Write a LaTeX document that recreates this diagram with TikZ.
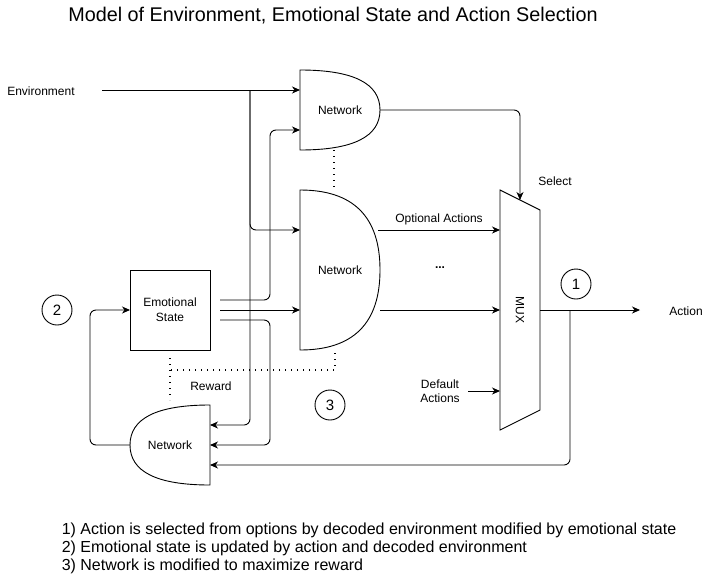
\documentclass[tikz,border=0pt]{standalone}
\usepackage{fontspec}
\setmainfont{Liberation Sans}
\usepackage{tikz}
\usetikzlibrary{arrows.meta,calc}

\begin{document}
\begin{tikzpicture}[x=1pt,y=-1pt,line width=0.9pt,font=\fontsize{12}{14}\selectfont,
   arr/.style={-{Stealth[length=8pt,width=7pt,inset=2.5pt]}},
   rc/.style={rounded corners=6pt},
   netbox/.style={minimum width=80,minimum height=80,inner sep=0,outer sep=0},
   dotline/.style={line width=1.3pt,dash pattern=on 1.3pt off 4.7pt},
   num/.style={draw,circle,minimum size=30,inner sep=0,font=\fontsize{15}{18}\selectfont}]
\useasboundingbox (0,0) rectangle (711,581);
% gate outline: flat side #2, round side #3 (two quadratic halves)
\newcommand{\gateline}[3]{\draw (#1.north #2) .. controls ($(#1.north #2)!2/3!(#1.north #3)$) and ($(#1.#3)!2/3!(#1.north #3)$) .. (#1.#3)
   .. controls ($(#1.#3)!2/3!(#1.south #3)$) and ($(#1.south #2)!2/3!(#1.south #3)$) .. (#1.south #2) -- cycle;}
\node (title) at (333,16) {\fontsize{19.8}{24}\selectfont Model of Environment, Emotional State and Action Selection};
% blocks
\node[netbox] (net1) at (340,110) {Network};
\node[netbox,minimum height=160] (net2) at (340,270) {Network};
\node[netbox] (net3) at (170,445) {Network};
\node[netbox,draw,align=center,font=\fontsize{12}{15}\selectfont] (es) at (170,310) {Emotional\\State};
\node[netbox,minimum width=40,minimum height=240] (mux) at (520,310) {};
\node[rotate=-90] (muxlbl) at (mux.center) {MUX};
\gateline{net1}{west}{east}
\gateline{net2}{west}{east}
\gateline{net3}{east}{west}
\draw (mux.north west) -- ($(mux.north east)+(0,20)$) -- ($(mux.south east)+(0,-20)$) -- (mux.south west) -- cycle;
% labels
\node (env) at (41,91) {Environment};
\node (sel) at (555,181) {Select};
\node (dots) at (440,268) {\bfseries ...};
\node[align=center] (dflt) at (440,391) {Default\\Actions};
\node (act) at (686,311) {Action};
\node (rew) at (211,386) {Reward};
\node[num] (c1) at (576,284) {1};
\node[num] (c2) at (57,310) {2};
\node[num] (c3) at (330,405) {3};
\coordinate (envout) at (102,90);
\coordinate (envsplit) at (250,90);
\coordinate (actout) at (640,310);
\coordinate (fb) at (570,310);
% environment in
\draw[arr] (envout) -- ($(net1.west)+(0,-20)$);
\draw[arr,rc] (envsplit) |- ($(net2.west)+(0,-40)$);
\draw[arr,rc] (envsplit) |- ($(net3.east)+(0,-20)$);
% emotional state out
\draw[arr,rc] ($(es.east)+(10,-10)$) -- ++(50,0) |- ($(net1.west)+(0,20)$);
\draw[arr] ($(es.east)+(10,0)$) -- (net2.west |- es.east);
\draw[arr,rc] ($(es.east)+(10,10)$) -- ++(50,0) |- (net3.east);
\draw[arr,rc] (net3.west) -- ++(-40,0) |- (es.west);
% mux
\draw[arr,rc] (net1.east) -| ($(mux.north)+(0,10)$);
\draw[arr] ($(net2.east)+(-2,-40)$) -- ($(mux.west)+(0,-80)$) node[midway,above=1pt]{Optional Actions};
\draw[arr] ($(net2.east)+(0,40)$) -- (mux.west);
\draw[arr] ($(dflt.east)+(5,0)$) -- (mux.west |- dflt.east);
\draw[arr] (mux.east) -- (actout);
\draw[arr,rc] (fb) |- ($(net3.east)+(0,20)$);
% reward
\draw[dotline] ($(net1.south)+(-6,0)$) -- ($(net2.north)+(-6,0)$);
\draw[dotline] ($(es.south)+(0,8)$) -- ($(net3.north)+(0,-5)$);
\draw[dotline] ($(net2.south)+(-5,3)$) |- ($(es.south)+(0,20)$);
\node[anchor=west,align=left,font=\fontsize{16}{18}\selectfont] (notes) at (58,548)
  {1) Action is selected from options by decoded environment modified by emotional state\\
   2) Emotional state is updated by action and decoded environment\\
   3) Network is modified to maximize reward};
\end{tikzpicture}
\end{document}
